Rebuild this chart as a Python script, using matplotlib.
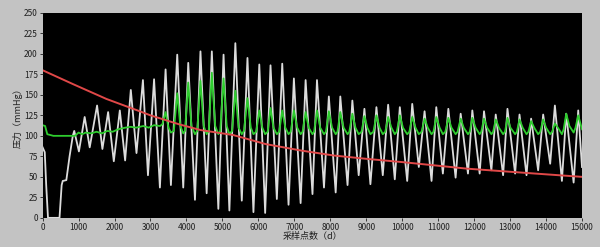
import matplotlib
matplotlib.use("Agg")
import matplotlib.pyplot as plt

plt.rcParams['font.family'] = ['Noto Sans CJK SC', 'DejaVu Sans']

# 白色：脉搏压力波形（峰/谷读数）
white_x = [0, 60, 100, 150, 470, 530, 560, 660, 750, 840, 880,
           1010, 1170, 1310, 1515, 1663, 1822, 1980, 2147, 2295, 2453, 2611, 2790, 2930,
           3100, 3262, 3420, 3568, 3744, 3911, 4050, 4237, 4390, 4562, 4706, 4887,
           5032, 5194, 5360, 5539, 5697, 5863, 6026, 6189, 6338, 6514, 6664, 6839,
           6988, 7175, 7314, 7505, 7630, 7825, 7960, 8150, 8279, 8480, 8614, 8790,
           8949, 9116, 9283, 9460, 9609, 9794, 9934, 10139, 10279, 10462, 10622, 10816,
           10948, 11131, 11283, 11485, 11626, 11829, 11950, 12154, 12275, 12480, 12601, 12806,
           12927, 13140, 13262, 13457, 13585, 13780, 13920, 14115, 14246, 14441, 14561, 14767,
           14895, 15000]
white_y = [86, 80, 40, 0, 0, 40, 45, 46, 75, 100, 106,
           81, 123, 86, 137, 84, 129, 69, 131, 70, 156, 79, 168, 52,
           169, 37, 181, 40, 199, 37, 189, 22, 203, 30, 203, 11,
           199, 9, 213, 21, 195, 7, 187, 6, 186, 23, 188, 16,
           170, 18, 168, 29, 168, 37, 148, 31, 148, 40, 143, 52,
           133, 41, 135, 52, 138, 47, 135, 45, 139, 62, 130, 45,
           135, 54, 133, 49, 127, 54, 131, 54, 130, 58, 126, 52,
           133, 54, 126, 52, 121, 58, 126, 66, 137, 45, 127, 43,
           131, 62]

# 绿色：平均压力
green_x = [0, 70, 130, 300, 900, 1000, 1100, 1200, 1350, 1500, 1650, 1800, 1950, 2100,
           2300, 2450, 2600, 2800, 2950, 3100, 3262, 3330, 3420, 3500,
           3568, 3650, 3744, 3830, 3911, 3960, 4050, 4140, 4237, 4300, 4390, 4480,
           4562, 4620, 4706, 4800, 4887, 4940, 5032, 5120, 5194, 5270, 5360, 5450,
           5539, 5600, 5697, 5790, 5863, 5940, 6026, 6110, 6189, 6260, 6338, 6420,
           6514, 6580, 6664, 6750, 6839, 6900, 6988, 7080, 7175, 7230, 7314, 7400,
           7505, 7550, 7630, 7720, 7825, 7880, 7960, 8050, 8150, 8200, 8279, 8370,
           8480, 8530, 8614, 8700, 8790, 8870, 8949, 9030, 9116, 9200, 9283, 9370,
           9460, 9530, 9609, 9700, 9794, 9850, 9934, 10020, 10139, 10200, 10279, 10370,
           10462, 10540, 10622, 10710, 10816, 10870, 10948, 11040, 11131, 11200, 11283, 11370,
           11485, 11540, 11626, 11710, 11829, 11880, 11950, 12040, 12154, 12200, 12275, 12360,
           12480, 12530, 12601, 12690, 12806, 12860, 12927, 13010, 13140, 13190, 13262, 13350,
           13457, 13510, 13585, 13670, 13780, 13840, 13920, 14000, 14115, 14170, 14246, 14330,
           14441, 14490, 14561, 14650, 14767, 14820, 14895, 15000]
green_y = [113, 112, 102, 100, 100, 104, 102, 104, 103, 105, 103, 106, 105, 108,
           110, 111, 110, 112, 110, 113, 112, 114, 129, 110,
           104, 106, 152, 112, 103, 106, 165, 112, 102, 106, 167, 112,
           102, 106, 177, 112, 102, 106, 170, 112, 102, 106, 155, 110,
           102, 106, 146, 110, 102, 105, 131, 110, 102, 105, 134, 110,
           102, 105, 131, 110, 102, 105, 131, 110, 102, 105, 129, 110,
           102, 105, 131, 110, 102, 105, 130, 110, 102, 105, 129, 110,
           102, 105, 127, 110, 102, 105, 124, 110, 102, 105, 125, 110,
           102, 105, 123, 110, 102, 105, 125, 110, 102, 105, 123, 110,
           102, 105, 121, 110, 102, 105, 123, 110, 102, 105, 122, 110,
           102, 105, 121, 110, 102, 105, 122, 110, 102, 105, 121, 110,
           102, 105, 120, 110, 102, 105, 122, 110, 102, 105, 120, 110,
           102, 105, 118, 110, 102, 105, 120, 110, 102, 105, 115, 110,
           102, 108, 127, 112, 104, 110, 125, 108]

# 红色：袖带压力
red_x = [0, 850, 1775, 2700, 3000, 3800, 4400, 5300, 6200, 7200, 8100, 9000, 10000,
         11800, 13700, 15000]
red_y = [180, 163, 145, 130, 125, 114, 107, 101, 90, 82, 76, 72, 68, 60, 54, 50]

x_ticks = list(range(0, 15001, 1000))
y_ticks = list(range(0, 251, 25))

fig = plt.figure(figsize=(6.0, 2.47), dpi=100, facecolor='#c3c3c3')
ax = fig.add_axes([0.071, 0.118, 0.899, 0.830])
ax.set_facecolor('black')

ax.plot(white_x, white_y, color='#dcdcdc', lw=1.3, zorder=2)
ax.plot(green_x, green_y, color='#2ecc2e', lw=1.3, zorder=3)
ax.plot(red_x, red_y, color='#e04848', lw=1.4, zorder=4)

ax.set_xlim(0, 15000)
ax.set_ylim(0, 250)
ax.set_xticks(x_ticks)
ax.set_yticks(y_ticks)
ax.tick_params(labelsize=6, colors='#202020', length=2, width=0.6, pad=1.5)
for s in ax.spines.values():
    s.set_visible(False)

ax.set_xlabel('采样点数（d）', fontsize=6.5, color='#202020', labelpad=0)
ax.set_ylabel('压力（mmHg）', fontsize=6.5, color='#202020', labelpad=1)

fig.savefig('out.png', dpi=100, facecolor=fig.get_facecolor())
